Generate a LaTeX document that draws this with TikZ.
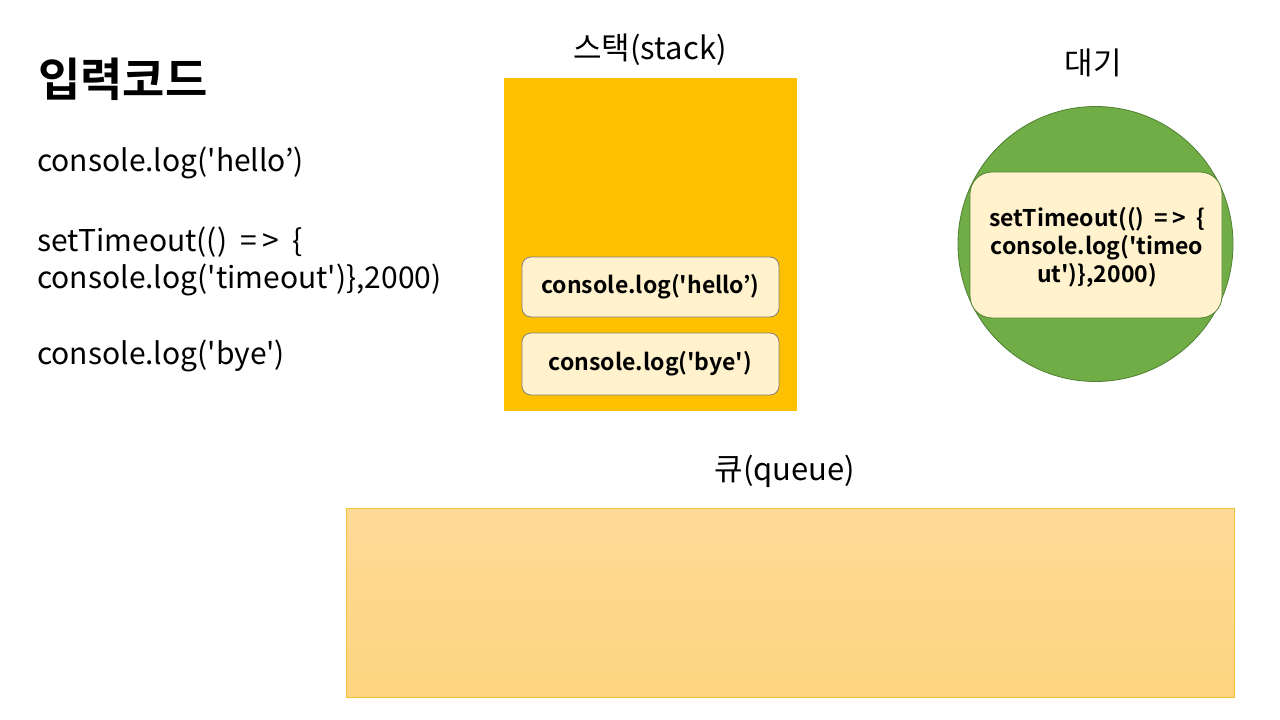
\documentclass[tikz,border=0pt]{standalone}
\usepackage{fontspec}
\newfontfamily\krfont{Noto Sans CJK KR}[BoldFont={Noto Sans CJK KR Bold}]
\definecolor{stackorange}{HTML}{FFC000}
\definecolor{cream}{HTML}{FFF2CC}
\definecolor{boxline}{HTML}{7F7F7F}
\definecolor{waitgreen}{HTML}{70AD47}
\definecolor{waitline}{HTML}{507E32}
\definecolor{qtop}{HTML}{FFDA98}
\definecolor{qbot}{HTML}{FED47F}
\definecolor{qline}{HTML}{F2C233}
\begin{document}
\begin{tikzpicture}[x=1pt,y=-1pt,
  every node/.style={font=\krfont},
  codetext/.style={anchor=west,inner sep=0pt,font=\krfont\fontsize{30}{36}\selectfont},
  labeltext/.style={inner sep=0pt,font=\krfont\fontsize{31}{36}\selectfont},
  callbox/.style={draw=boxline,fill=cream,rounded corners=9pt,line width=0.8pt,
    font=\krfont\bfseries\fontsize{23}{28}\selectfont,align=center}
]
\useasboundingbox (0,0) rectangle (1280,720);
\fill[white] (0,0) rectangle (1280,720);

% title and input code
\node[anchor=west,inner sep=0pt,font=\krfont\bfseries\fontsize{46}{52}\selectfont] (title) at (38,79) {입력코드};
\node[codetext] (c1) at (37,163) {console.log('hello’)};
\node[codetext] (c2) at (37,242) {setTimeout(() \ =\,> \ \{};
\node[codetext] (c3) at (37,280) {console.log('timeout')\},2000)};
\node[codetext] (c4) at (37,356) {console.log('bye')};

% stack
\node[labeltext] (stacklabel) at (650,50) {스택(stack)};
\fill[stackorange] (504,78) rectangle (797,411);
\node[callbox,minimum width=257pt,minimum height=60pt] (hello) at (650.5,287) {console.log('hello’)};
\node[callbox,minimum width=257pt,minimum height=62pt] (bye) at (650.5,364) {console.log('bye')};

% waiting
\node[labeltext] (waitlabel) at (1093,63) {대기};
\node[circle,draw=waitline,fill=waitgreen,line width=0.8pt,minimum size=275pt,inner sep=0pt] (wait) at (1095.5,244) {};
\node[callbox,draw=waitline,rounded corners=22pt,minimum width=252pt,minimum height=146pt,inner sep=0pt] (timer) at (1096,245) {};
\node[callbox,draw=none,fill=none,inner sep=0pt] (timertext) at (1097,247.5)
  {setTimeout(() \ =\,> \ \{\\console.log('timeo\\ut')\},2000)};

% queue
\node[labeltext] (queuelabel) at (785,471) {큐(queue)};
\shade[top color=qtop,bottom color=qbot] (346,508) rectangle (1234,697);
\draw[qline,line width=0.8pt] (346,508) rectangle (1234,697);
\end{tikzpicture}
\end{document}
